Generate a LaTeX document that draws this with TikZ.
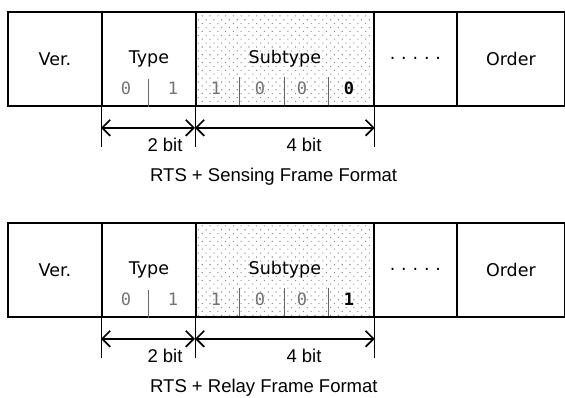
\documentclass[tikz,border=0pt]{standalone}
\usepackage{fontspec}
\setmainfont{Liberation Sans}
\newfontfamily\fieldfont{DejaVu Sans}
\newfontfamily\bitfont{DejaVu Sans Mono}
\usepackage{tikz}
\usetikzlibrary{arrows.meta}
\usetikzlibrary{patterns.meta}

\tikzset{
	field/.style={draw, line width=1.8pt, minimum height=94pt, inner sep=0pt, anchor=north west, font=\fieldfont\fontsize{17.5}{20}\selectfont},
	dotted field/.style={field, pattern={Dots[distance=5.5pt, angle=45, radius=0.75pt]}, pattern color=black!45},
	bitline/.style={line width=1pt, black!60},
	bit/.style={font=\bitfont\fontsize{17}{20}\selectfont, text=black!55},
	ext/.style={line width=0.8pt},
	dimarrow/.style={{Straight Barb[length=8pt,width=16pt]}-{Straight Barb[length=8pt,width=16pt]}, line width=1.7pt},
	label/.style={font=\fontsize{18.5}{22}\selectfont}
}

\begin{document}
\begin{tikzpicture}[x=1pt,y=-1pt]
			\useasboundingbox (0,0) rectangle (565,397);
			
			\foreach \i/\top/\cap/\last in {1/11/Sensing/0, 2/222/Relay/1}{
				% fields
				\node[field, minimum width=94pt] (ver\i) at (7,\top) {Ver.};
				\node[field, minimum width=94pt] (type\i) at (101,\top) {Type};
				\node[dotted field, minimum width=178pt] (sub\i) at (195,\top) {Subtype};
				\node[field, minimum width=83pt] (more\i) at (373,\top) {.\,\,.\,\,.\,\,.\,\,.};
				\node[field, minimum width=108pt] (order\i) at (456,\top) {Order};
				
				% bit dividers
				\draw[bitline] (type\i.south) -- ++(0,-28);
				\foreach \x in {239.5,284,328.5}
					\draw[bitline] (\x,\top+94) -- ++(0,-28);
				
				% bits
				\node[bit] (b\i a) at (126,\top+77) {0};
				\node[bit] (b\i b) at (173,\top+77) {1};
				\node[bit] (b\i c) at (216,\top+77) {1};
				\node[bit] (b\i d) at (260,\top+77) {0};
				\node[bit] (b\i e) at (302,\top+77) {0};
				\node[bit, text=black] (b\i f) at (349,\top+77) {\bfseries\last};
				
				% sizes
				\draw[ext] (type\i.south west) -- ++(0,40);
				\draw[ext] (sub\i.south west) -- ++(0,40);
				\draw[ext] (sub\i.south east) -- ++(0,40);
				\draw[dimarrow] ([yshift=-21pt]type\i.south west) -- ([yshift=-21pt]sub\i.south west);
				\draw[dimarrow] ([yshift=-21pt]sub\i.south west) -- ([yshift=-21pt]sub\i.south east);
				\node[label] (two\i) at (165,\top+134) {2 bit};
				\node[label] (four\i) at (304,\top+134) {4 bit};
				
				\node[label, anchor=west, inner sep=0pt] (cap\i) at (150,\top+166) {RTS + \cap\ Frame Format};
			}
			
		\end{tikzpicture}
\end{document}
